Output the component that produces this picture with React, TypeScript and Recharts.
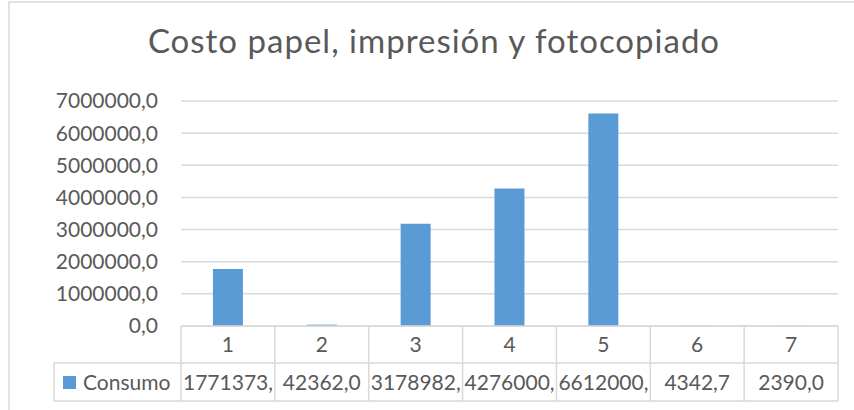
import React from 'react'
import { BarChart, Bar, XAxis, YAxis, CartesianGrid } from 'recharts'

const title = 'Costo papel, impresión y fotocopiado'
const seriesName = 'Consumo'
const categories = ['1', '2', '3', '4', '5', '6', '7']
const consumo = [1771373.0, 42362.0, 3178982.0, 4276000.0, 6612000.0, 4342.7, 2390.0]
const yTicks = [0, 1000000, 2000000, 3000000, 4000000, 5000000, 6000000, 7000000]

const data = categories.map((c, i) => ({ name: c, consumo: consumo[i] }))

const FONT = 'Lato, "Liberation Sans", sans-serif'
const TEXT = '#595959'
const LINE = '#D9D9D9'
const BLUE = '#5B9BD5'
const FS = 21

// excel number format: one decimal, comma separator
const fmt = (v: number) => v.toFixed(1).replace('.', ',')

function TableTick(props: any) {
  const { x, y, payload, index } = props
  const half = payload?.offset ?? 47
  const left = x - half
  const right = x + half
  const mid = y + 37
  const bottom = y + 75
  const label = fmt(consumo[index])
  // rough width estimate, overflowing text is left aligned and clipped like excel
  const estWidth = label.length * FS * 0.56
  const overflow = estWidth > right - left - 4
  const clipId = `cell-clip-${index}`
  return (
    <g fontFamily={FONT} fontSize={FS} fill={TEXT}>
      {index === 0 && (
        <g>
          <line x1={54} y1={mid} x2={left} y2={mid} stroke={LINE} strokeWidth={1.5} />
          <line x1={54} y1={bottom} x2={left} y2={bottom} stroke={LINE} strokeWidth={1.5} />
          <line x1={54} y1={mid} x2={54} y2={bottom} stroke={LINE} strokeWidth={1.5} />
          <line x1={left} y1={y} x2={left} y2={bottom} stroke={LINE} strokeWidth={1.5} />
          <rect x={63} y={376} width={13} height={13} fill={BLUE} />
          <text x={83} y={mid + 27} fill={TEXT}>{seriesName}</text>
        </g>
      )}
      <line x1={left} y1={mid} x2={right} y2={mid} stroke={LINE} strokeWidth={1.5} />
      <line x1={left} y1={bottom} x2={right} y2={bottom} stroke={LINE} strokeWidth={1.5} />
      <line x1={right} y1={y} x2={right} y2={bottom} stroke={LINE} strokeWidth={1.5} />
      <text x={x} y={y + 26} textAnchor="middle" fill={TEXT}>{payload.value}</text>
      <clipPath id={clipId}>
        <rect x={left + 1} y={mid} width={right - left - 3} height={bottom - mid} />
      </clipPath>
      <text
        x={overflow ? left + 2 : x}
        y={mid + 27}
        textAnchor={overflow ? 'start' : 'middle'}
        clipPath={`url(#${clipId})`}
        fill={TEXT}
      >
        {label}
      </text>
    </g>
  )
}

export default function App() {
  return (
    <div style={{ position: 'absolute', left: 0, top: 0, width: 854, height: 410, overflow: 'hidden', background: '#fff' }}>
      <BarChart
        width={854}
        height={410}
        data={data}
        margin={{ top: 101, right: 16, left: 0, bottom: 0 }}
        barCategoryGap="34%"
      >
        <CartesianGrid vertical={false} stroke={LINE} strokeWidth={1.5} />
        <YAxis
          domain={[0, 7000000]}
          ticks={yTicks}
          width={181}
          axisLine={false}
          tickLine={false}
          tickSize={0}
          tickMargin={23}
          tickFormatter={fmt}
          tick={{ fill: TEXT, fontSize: FS, fontFamily: FONT }}
        />
        <XAxis
          dataKey="name"
          height={84}
          interval={0}
          axisLine={{ stroke: LINE, strokeWidth: 1.5 }}
          tickLine={false}
          tickSize={0}
          tickMargin={0}
          tick={<TableTick />}
        />
        <Bar dataKey="consumo" fill={BLUE} isAnimationActive={false} />
      </BarChart>
      <svg
        width={854}
        height={410}
        style={{ position: 'absolute', left: 0, top: 0, pointerEvents: 'none' }}
      >
        <rect x={9} y={2} width={900} height={500} fill="none" stroke={LINE} strokeWidth={1.5} />
        <text
          x={434}
          y={53}
          textAnchor="middle"
          fontFamily={FONT}
          fontSize={33}
          letterSpacing={1}
          fill={TEXT}
        >
          {title}
        </text>
      </svg>
    </div>
  )
}
